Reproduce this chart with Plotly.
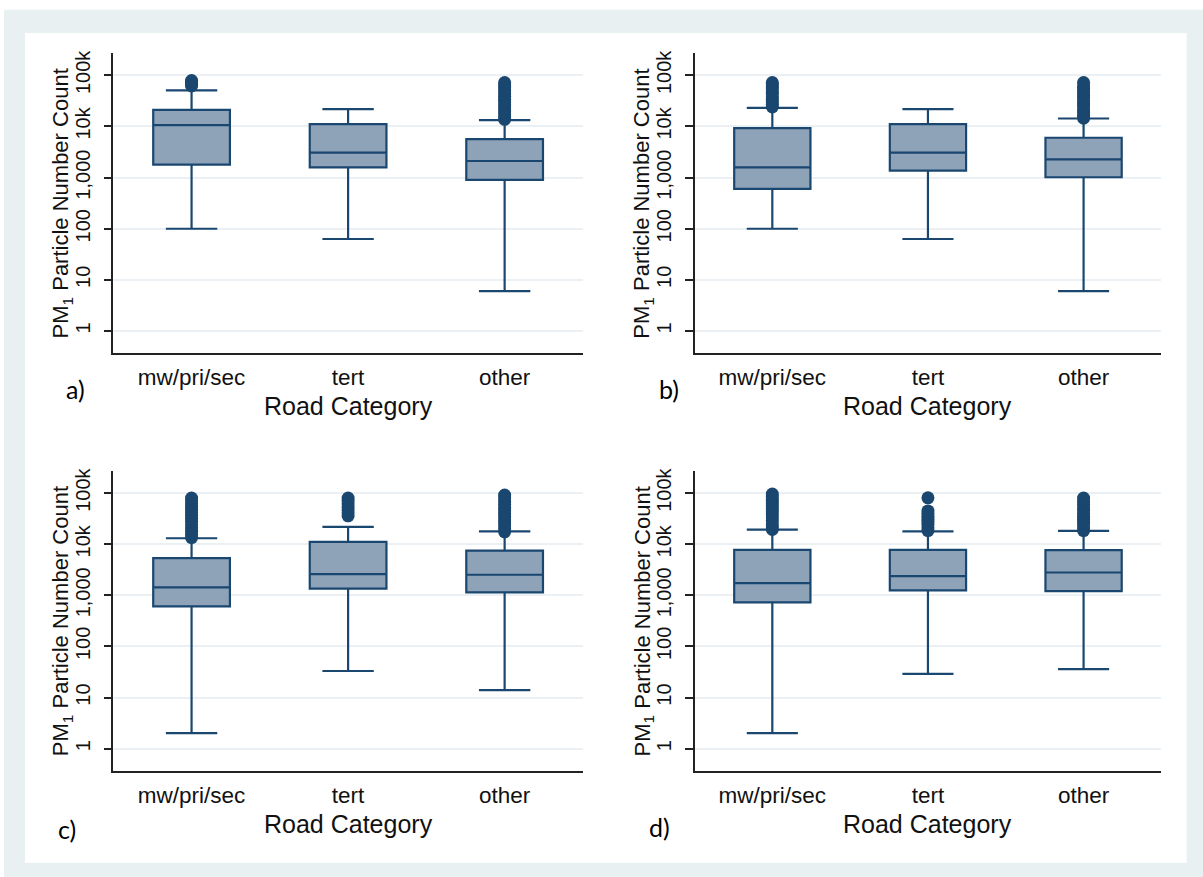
import plotly.graph_objects as go
from plotly.subplots import make_subplots

# Road categories on the x axis and the panel letters
CATEGORIES = ["mw/pri/sec", "tert", "other"]
PANEL_LABELS = ["a)", "b)", "c)", "d)"]

# Box statistics per panel (a, b, c, d), each in category order
LOWER = [[100, 63, 6], [100, 63, 6], [2, 33, 14], [2, 29, 36]]
Q1 = [[1790, 1590, 900], [600, 1370, 1015], [610, 1350, 1140], [730, 1250, 1210]]
MEDIAN = [[10600, 3070, 2110], [1590, 3070, 2280], [1430, 2600, 2530], [1740, 2380, 2800]]
Q3 = [[21100, 11100, 5660], [9300, 11100, 6010], [5340, 11100, 7530], [7760, 7760, 7640]]
UPPER = [[51000, 21800, 13300], [23100, 21800, 14300], [13100, 21800, 17900], [19300, 17900, 18200]]

# Outlying values (per panel, per category)
OUTLIERS = [
    [[62000, 66000, 71000, 76000, 79000],
     [],
     [13800, 15500, 17500, 20000, 23000, 26000, 30000, 34000, 39000, 44000, 50000, 57000, 64000, 72000]],
    [[24000, 27000, 30000, 34000, 38000, 43000, 48000, 54000, 60000, 66000, 72000],
     [],
     [14500, 16500, 19000, 22000, 25000, 28000, 32000, 36000, 41000, 47000, 54000, 62000, 72000]],
    [[13500, 15500, 18000, 21000, 24000, 28000, 32000, 37000, 42000, 48000, 55000, 62000, 70000, 80000],
     [36000, 41000, 47000, 54000, 62000, 70000, 80000],
     [17500, 20000, 23000, 26000, 30000, 34000, 39000, 45000, 52000, 60000, 69000, 80000, 92000]],
    [[19500, 22000, 25000, 29000, 33000, 38000, 43000, 49000, 56000, 64000, 73000, 84000, 96000],
     [18500, 21000, 24000, 27000, 31000, 35000, 40000, 45000, 81000],
     [18500, 21000, 24000, 27000, 31000, 35000, 40000, 46000, 52000, 60000, 69000, 80000]],
]

TICK_VALS = [1, 10, 100, 1000, 10000, 100000]
TICK_TEXT = ["1", "10", "100", "1,000", "10k", "100k"]

NAVY = "#1a476f"
BOX_FILL = "#8ea3b8"
LIGHT = "#e9f0f2"
GRID = "#eaf0f3"
W, H = 1203, 877

x_domains = [(113.3 / W, 582.9 / W), (694.5 / W, 1161.4 / W)]
y_domains = [(1 - 351.7 / H, 1 - 50 / H), (1 - 770.7 / H, 1 - 469.3 / H)]
label_pos = [(75, 387), (669, 387), (67, 829), (659, 827)]

fig = make_subplots(rows=2, cols=2)

annotations = []
for i in range(4):
    r, c = i // 2 + 1, i % 2 + 1
    fig.add_trace(go.Box(
        x=CATEGORIES, q1=Q1[i], median=MEDIAN[i], q3=Q3[i],
        lowerfence=LOWER[i], upperfence=UPPER[i],
        fillcolor=BOX_FILL, line=dict(color=NAVY, width=2.2),
        width=0.49, whiskerwidth=0.67, boxpoints=False, showlegend=False
    ), row=r, col=c)

    ox = [cat for cat, vals in zip(CATEGORIES, OUTLIERS[i]) for v in vals]
    oy = [v for vals in OUTLIERS[i] for v in vals]
    fig.add_trace(go.Scatter(
        x=ox, y=oy, mode="markers",
        marker=dict(color=NAVY, size=13, line=dict(width=0)),
        showlegend=False
    ), row=r, col=c)

    xd = x_domains[c - 1]
    yd = y_domains[r - 1]
    n = "" if i == 0 else str(i + 1)
    fig.layout[f"xaxis{n}"].domain = xd
    fig.layout[f"yaxis{n}"].domain = yd

    # axis titles
    annotations.append(dict(
        text="Road Category", xref="paper", yref="paper",
        x=(xd[0] + xd[1]) / 2, y=yd[0] - 53 / H,
        xanchor="center", yanchor="middle", showarrow=False,
        font=dict(size=25, color="#111111")
    ))
    annotations.append(dict(
        text="PM<sub>1</sub> Particle Number Count", xref="paper", yref="paper",
        x=xd[0] - 51 / W, y=(yd[0] + yd[1]) / 2, textangle=-90,
        xanchor="center", yanchor="middle", showarrow=False,
        font=dict(size=22, color="#111111")
    ))
    lx, ly = label_pos[i]
    annotations.append(dict(
        text=PANEL_LABELS[i], xref="paper", yref="paper",
        x=lx / W, y=1 - ly / H, xanchor="center", yanchor="middle",
        showarrow=False, font=dict(family="Lato", size=25, color="#000000")
    ))

fig.update_xaxes(
    type="category", categoryorder="array", categoryarray=CATEGORIES,
    range=[-0.5, 2.5], showline=True, linecolor="#222222", linewidth=1.5,
    ticks="", showgrid=False, zeroline=False, ticklabelstandoff=3,
    tickfont=dict(size=22.5, color="#111111")
)
fig.update_yaxes(
    type="log", range=[-0.44, 5.44], tickvals=TICK_VALS, ticktext=TICK_TEXT,
    tickangle=-90, ticks="outside", ticklen=8, tickcolor="#222222", tickwidth=1.5,
    showline=True, linecolor="#222222", linewidth=1.5, ticklabelstandoff=6,
    showgrid=True, gridcolor=GRID, gridwidth=2, zeroline=False,
    tickfont=dict(size=20, color="#111111")
)

fig.update_layout(
    width=W, height=H,
    margin=dict(l=0, r=0, t=0, b=0),
    paper_bgcolor="white", plot_bgcolor="white",
    font=dict(family="Liberation Sans, Arial, sans-serif"),
    annotations=annotations,
    shapes=[
        dict(type="rect", xref="paper", yref="paper", layer="below",
             x0=4 / W, x1=1, y0=0, y1=1 - 6.7 / H,
             fillcolor=LIGHT, line=dict(width=0)),
        dict(type="rect", xref="paper", yref="paper", layer="below",
             x0=25 / W, x1=1186.7 / W, y0=1 - 862.7 / H, y1=1 - 30 / H,
             fillcolor="white", line=dict(width=0)),
    ],
)

fig.write_html("out.html", config={"displayModeBar": False},
               post_script="document.body.style.margin='0';")
